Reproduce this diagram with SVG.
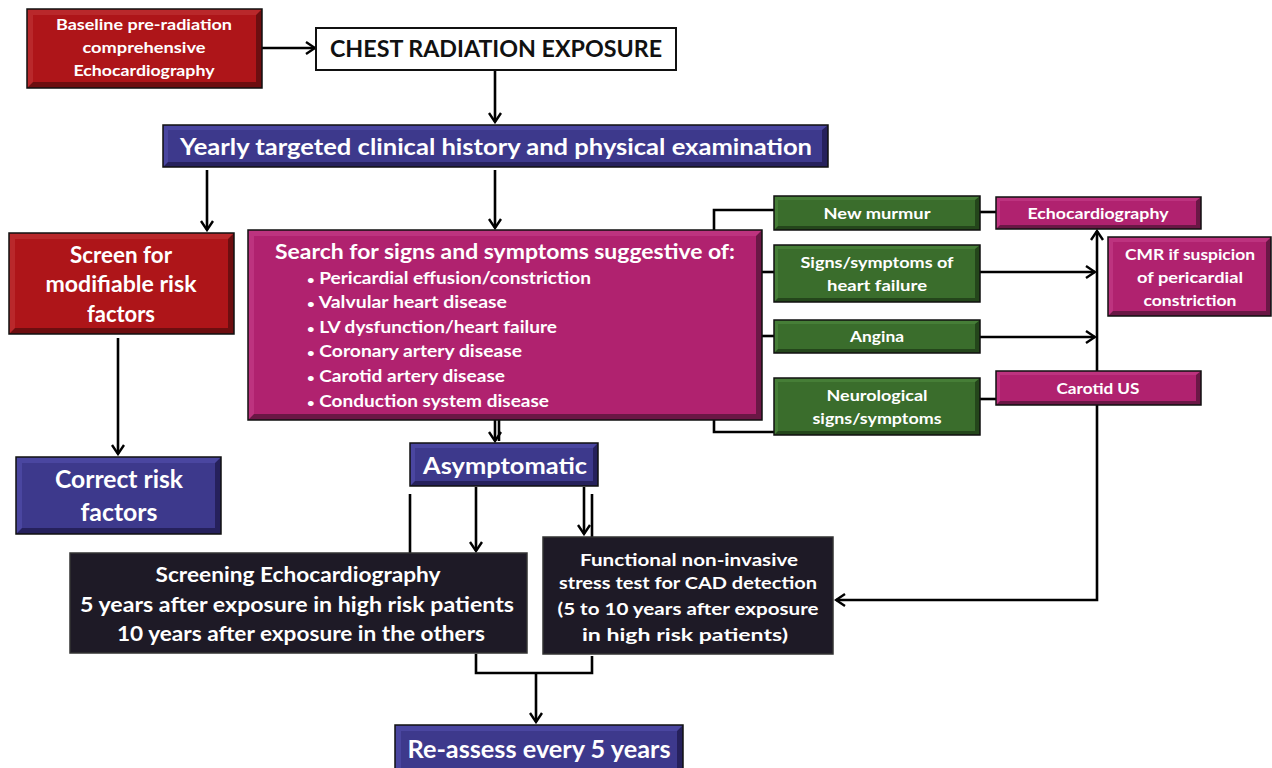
<svg xmlns="http://www.w3.org/2000/svg" width="1272" height="768" viewBox="0 0 1272 768">
<defs>
<marker id="ah" markerUnits="userSpaceOnUse" markerWidth="14" markerHeight="14" viewBox="0 0 14 14" refX="12" refY="7" orient="auto">
<path d="M3,1 L12,7 L3,13" fill="none" stroke="#000" stroke-width="2.4"/>
</marker>
</defs>
<style>
.ln{fill:none;stroke:#000;stroke-width:2.6}
.ar{fill:none;stroke:#000;stroke-width:2.6;marker-end:url(#ah)}
.edge{stroke:#111;stroke-width:1.5}
.t{font-family:Lato,"Open Sans","Liberation Sans",sans-serif;font-weight:bold;fill:#fff}
.b{font-size:12px}
.red .o{fill:#6d0e10}.red .l{fill:#b9282b}.red .i{fill:#ae1519}
.blu .o{fill:#26215c}.blu .l{fill:#4a46a0}.blu .i{fill:#3d398c}
.mag .o{fill:#6a1745}.mag .l{fill:#bd337f}.mag .i{fill:#b0226f}
.grn .o{fill:#24461b}.grn .l{fill:#467e37}.grn .i{fill:#3a6d2c}
.drk .i{fill:#1e1a26}
</style>

<g id="connectors">
<path class="ar" d="M262,48 L315,48"/>
<path class="ar" d="M495,70 L495,122"/>
<path class="ar" d="M207,170 L207,230"/>
<path class="ar" d="M495,170 L495,228"/>
<path class="ar" d="M118,338 L118,454"/>
<path class="ar" d="M495,420 L495,441"/>
<path class="ln" d="M499,420 L499,441"/>
<path class="ln" d="M774,210 L714,210 L714,432 L774,432"/>
<path class="ln" d="M762,272 L774,272"/>
<path class="ln" d="M762,336 L774,336"/>
<path class="ln" d="M980,212 L996,212"/>
<path class="ln" d="M980,399 L996,399"/>
<path class="ar" d="M1097,371 L1097,231"/>
<path class="ar" d="M1097,405 L1097,600 L836,600"/>
<path class="ar" d="M980,272 L1095,272"/>
<path class="ar" d="M980,337 L1095,337"/>
<path class="ar" d="M476,487 L476,551"/>
<path class="ar" d="M584,487 L584,534"/>
<path class="ln" d="M592,494 L592,537"/>
<path class="ln" d="M410,494 L410,553"/>
<path class="ln" d="M476,654 L476,673 L592,673 L592,656"/>
<path class="ar" d="M536,673 L536,722"/>
</g>

<g id="baseline" class="red">
<rect class="o" x="27" y="9" width="235" height="79"/>
<polygon class="l" points="27,9 262,9 256,15 33,15 33,82 27,88"/>
<rect class="i" x="33" y="15" width="223" height="67"/>
<rect x="27" y="9" width="235" height="79" fill="none" class="edge"/>
<text class="t" x="144" y="30" font-size="15.5" text-anchor="middle" textLength="176" lengthAdjust="spacingAndGlyphs">Baseline pre-radiation</text>
<text class="t" x="144" y="53" font-size="15.5" text-anchor="middle" textLength="123" lengthAdjust="spacingAndGlyphs">comprehensive</text>
<text class="t" x="144" y="76" font-size="15.5" text-anchor="middle" textLength="141" lengthAdjust="spacingAndGlyphs">Echocardiography</text>
</g>

<g id="chest">
<rect x="316" y="28" width="360" height="42" fill="#fff" stroke="#111" stroke-width="2"/>
<text class="t" style="fill:#111" x="496" y="57" font-size="22.5" text-anchor="middle" textLength="332" lengthAdjust="spacingAndGlyphs">CHEST RADIATION EXPOSURE</text>
</g>

<g id="yearly" class="blu">
<rect class="o" x="163" y="125" width="665" height="42"/>
<polygon class="l" points="163,125 828,125 822,130 168,130 168,162 163,167"/>
<rect class="i" x="168" y="130" width="654" height="32"/>
<rect x="163" y="125" width="665" height="42" fill="none" class="edge"/>
<text class="t" x="496" y="155" font-size="22.5" text-anchor="middle" textLength="632" lengthAdjust="spacingAndGlyphs">Yearly targeted clinical history and physical examination</text>
</g>

<g id="screen" class="red">
<rect class="o" x="9" y="233" width="225" height="101"/>
<polygon class="l" points="9,233 234,233 228,239 15,239 15,328 9,334"/>
<rect class="i" x="15" y="239" width="213" height="89"/>
<rect x="9" y="233" width="225" height="101" fill="none" class="edge"/>
<text class="t" x="121" y="263" font-size="22.5" text-anchor="middle" textLength="102" lengthAdjust="spacingAndGlyphs">Screen for</text>
<text class="t" x="121" y="292" font-size="22.5" text-anchor="middle" textLength="151" lengthAdjust="spacingAndGlyphs">modifiable risk</text>
<text class="t" x="121" y="322" font-size="22.5" text-anchor="middle" textLength="68" lengthAdjust="spacingAndGlyphs">factors</text>
</g>

<g id="correct" class="blu">
<rect class="o" x="16" y="457" width="205" height="77"/>
<polygon class="l" points="16,457 221,457 215,463 22,463 22,528 16,534"/>
<rect class="i" x="22" y="463" width="193" height="65"/>
<rect x="16" y="457" width="205" height="77" fill="none" class="edge"/>
<text class="t" x="119" y="488" font-size="24" text-anchor="middle" textLength="128" lengthAdjust="spacingAndGlyphs">Correct risk</text>
<text class="t" x="119" y="521" font-size="24" text-anchor="middle" textLength="77" lengthAdjust="spacingAndGlyphs">factors</text>
</g>

<g id="search" class="mag">
<rect class="o" x="248" y="230" width="514" height="190"/>
<polygon class="l" points="248,230 762,230 756,236 254,236 254,414 248,420"/>
<rect class="i" x="254" y="236" width="502" height="178"/>
<rect x="248" y="230" width="514" height="190" fill="none" class="edge"/>
<text class="t" x="275" y="259" font-size="21" textLength="460" lengthAdjust="spacingAndGlyphs">Search for signs and symptoms suggestive of:</text>
<text class="t" x="307" y="284" font-size="17.5" textLength="284" lengthAdjust="spacingAndGlyphs"><tspan class="b">•</tspan> Pericardial effusion/constriction</text>
<text class="t" x="307" y="308" font-size="17.5" textLength="200" lengthAdjust="spacingAndGlyphs"><tspan class="b">•</tspan> Valvular heart disease</text>
<text class="t" x="307" y="333" font-size="17.5" textLength="250" lengthAdjust="spacingAndGlyphs"><tspan class="b">•</tspan> LV dysfunction/heart failure</text>
<text class="t" x="307" y="357" font-size="17.5" textLength="215" lengthAdjust="spacingAndGlyphs"><tspan class="b">•</tspan> Coronary artery disease</text>
<text class="t" x="307" y="382" font-size="17.5" textLength="198" lengthAdjust="spacingAndGlyphs"><tspan class="b">•</tspan> Carotid artery disease</text>
<text class="t" x="307" y="407" font-size="17.5" textLength="242" lengthAdjust="spacingAndGlyphs"><tspan class="b">•</tspan> Conduction system disease</text>
</g>

<g id="murmur" class="grn">
<rect class="o" x="774" y="196" width="206" height="34"/>
<polygon class="l" points="774,196 980,196 975,200 778,200 778,226 774,230"/>
<rect class="i" x="778" y="200" width="197" height="26"/>
<rect x="774" y="196" width="206" height="34" fill="none" class="edge"/>
<text class="t" x="877" y="219" font-size="15.5" text-anchor="middle" textLength="107" lengthAdjust="spacingAndGlyphs">New murmur</text>
</g>

<g id="hf" class="grn">
<rect class="o" x="774" y="245" width="206" height="57"/>
<polygon class="l" points="774,245 980,245 975,249 778,249 778,298 774,302"/>
<rect class="i" x="778" y="249" width="197" height="49"/>
<rect x="774" y="245" width="206" height="57" fill="none" class="edge"/>
<text class="t" x="877" y="268" font-size="15.5" text-anchor="middle" textLength="153" lengthAdjust="spacingAndGlyphs">Signs/symptoms of</text>
<text class="t" x="877" y="291" font-size="15.5" text-anchor="middle" textLength="100" lengthAdjust="spacingAndGlyphs">heart failure</text>
</g>

<g id="angina" class="grn">
<rect class="o" x="774" y="320" width="206" height="33"/>
<polygon class="l" points="774,320 980,320 975,324 778,324 778,349 774,353"/>
<rect class="i" x="778" y="324" width="197" height="25"/>
<rect x="774" y="320" width="206" height="33" fill="none" class="edge"/>
<text class="t" x="877" y="342" font-size="15.5" text-anchor="middle" textLength="54" lengthAdjust="spacingAndGlyphs">Angina</text>
</g>

<g id="neuro" class="grn">
<rect class="o" x="774" y="378" width="206" height="57"/>
<polygon class="l" points="774,378 980,378 975,382 778,382 778,431 774,435"/>
<rect class="i" x="778" y="382" width="197" height="49"/>
<rect x="774" y="378" width="206" height="57" fill="none" class="edge"/>
<text class="t" x="877" y="401" font-size="15.5" text-anchor="middle" textLength="101" lengthAdjust="spacingAndGlyphs">Neurological</text>
<text class="t" x="877" y="424" font-size="15.5" text-anchor="middle" textLength="129" lengthAdjust="spacingAndGlyphs">signs/symptoms</text>
</g>

<g id="echo" class="mag">
<rect class="o" x="996" y="197" width="205" height="32"/>
<polygon class="l" points="996,197 1201,197 1196,201 1000,201 1000,225 996,229"/>
<rect class="i" x="1000" y="201" width="196" height="24"/>
<rect x="996" y="197" width="205" height="32" fill="none" class="edge"/>
<text class="t" x="1098" y="219" font-size="15.5" text-anchor="middle" textLength="141" lengthAdjust="spacingAndGlyphs">Echocardiography</text>
</g>

<g id="cmr" class="mag">
<rect class="o" x="1108" y="237" width="163" height="79"/>
<polygon class="l" points="1108,237 1271,237 1266,242 1113,242 1113,311 1108,316"/>
<rect class="i" x="1113" y="242" width="153" height="69"/>
<rect x="1108" y="237" width="163" height="79" fill="none" class="edge"/>
<text class="t" x="1190" y="260" font-size="16" text-anchor="middle" textLength="130" lengthAdjust="spacingAndGlyphs">CMR if suspicion</text>
<text class="t" x="1190" y="283" font-size="16" text-anchor="middle" textLength="106" lengthAdjust="spacingAndGlyphs">of pericardial</text>
<text class="t" x="1190" y="306" font-size="16" text-anchor="middle" textLength="93" lengthAdjust="spacingAndGlyphs">constriction</text>
</g>

<g id="carotid" class="mag">
<rect class="o" x="996" y="371" width="205" height="34"/>
<polygon class="l" points="996,371 1201,371 1196,375 1000,375 1000,401 996,405"/>
<rect class="i" x="1000" y="375" width="196" height="26"/>
<rect x="996" y="371" width="205" height="34" fill="none" class="edge"/>
<text class="t" x="1098" y="394" font-size="15.5" text-anchor="middle" textLength="83" lengthAdjust="spacingAndGlyphs">Carotid US</text>
</g>

<g id="asym" class="blu">
<rect class="o" x="410" y="443" width="188" height="43"/>
<polygon class="l" points="410,443 598,443 593,448 415,448 415,481 410,486"/>
<rect class="i" x="415" y="448" width="178" height="33"/>
<rect x="410" y="443" width="188" height="43" fill="none" class="edge"/>
<text class="t" x="505" y="474" font-size="22.5" text-anchor="middle" textLength="164" lengthAdjust="spacingAndGlyphs">Asymptomatic</text>
</g>

<g id="screening" class="drk">
<rect class="i" x="70" y="553" width="457" height="100" stroke="#333" stroke-width="1.5"/>
<text class="t" x="298" y="582" font-size="20" text-anchor="middle" textLength="285" lengthAdjust="spacingAndGlyphs">Screening Echocardiography</text>
<text class="t" x="297" y="612" font-size="20" text-anchor="middle" textLength="434" lengthAdjust="spacingAndGlyphs">5 years after exposure in high risk patients</text>
<text class="t" x="301" y="641" font-size="20" text-anchor="middle" textLength="368" lengthAdjust="spacingAndGlyphs">10 years after exposure in the others</text>
</g>

<g id="functional" class="drk">
<rect class="i" x="543" y="537" width="290" height="117" stroke="#333" stroke-width="1.5"/>
<text class="t" x="689" y="566" font-size="17.5" text-anchor="middle" textLength="218" lengthAdjust="spacingAndGlyphs">Functional non-invasive</text>
<text class="t" x="688" y="589" font-size="17.5" text-anchor="middle" textLength="258" lengthAdjust="spacingAndGlyphs">stress test for CAD detection</text>
<text class="t" x="688" y="615" font-size="17.5" text-anchor="middle" textLength="261" lengthAdjust="spacingAndGlyphs">(5 to 10 years after exposure</text>
<text class="t" x="685" y="641" font-size="17.5" text-anchor="middle" textLength="206" lengthAdjust="spacingAndGlyphs">in high risk patients)</text>
</g>

<g id="reassess" class="blu">
<rect class="o" x="395" y="725" width="288" height="50"/>
<polygon class="l" points="395,725 683,725 677,731 401,731 401,775 395,775"/>
<rect class="i" x="401" y="731" width="276" height="44"/>
<rect x="395" y="725" width="288" height="50" fill="none" class="edge"/>
<text class="t" x="539" y="758" font-size="25" text-anchor="middle" textLength="263" lengthAdjust="spacingAndGlyphs">Re-assess every 5 years</text>
</g>
</svg>
